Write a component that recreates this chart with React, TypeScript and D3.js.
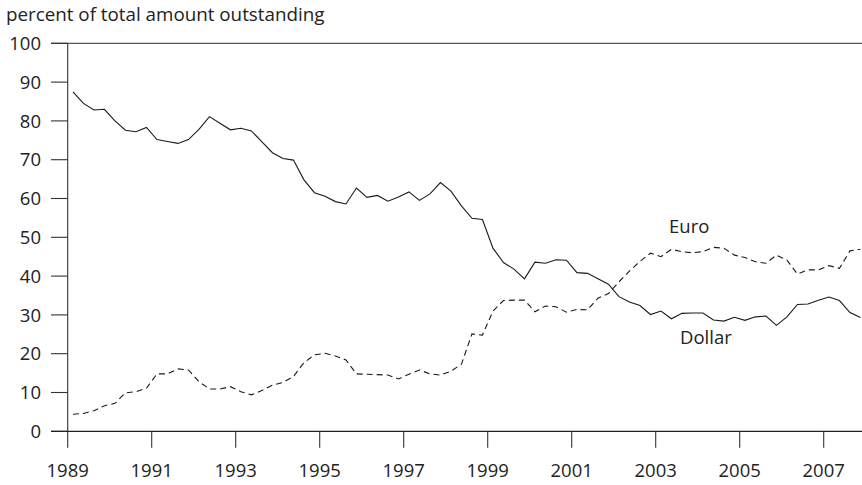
import React from "react";
import * as d3 from "d3";

const startYear = 1989.125;
const step = 0.25;

const dollar = [
  87.5, 84.5, 82.8, 83.0, 80.0, 77.6, 77.2, 78.3, 75.2, 74.7, 74.2, 75.2, 77.8, 81.1, 79.4, 77.7,
  78.1, 77.4, 74.6, 71.8, 70.3, 69.9, 64.8, 61.5, 60.6, 59.2, 58.6, 62.7, 60.3, 60.8, 59.3, 60.4,
  61.7, 59.5, 61.2, 64.1, 61.9, 58.1, 54.9, 54.6, 47.2, 43.5, 41.8, 39.3, 43.6, 43.3, 44.2, 44.1,
  40.9, 40.7, 39.3, 37.9, 34.7, 33.3, 32.4, 30.1, 31.0, 29.0, 30.4, 30.5, 30.5, 28.7, 28.4, 29.4,
  28.6, 29.5, 29.7, 27.3, 29.5, 32.7, 32.8, 33.8, 34.6, 33.7, 30.6, 29.3,
];

const euro = [
  4.4, 4.6, 5.3, 6.6, 7.2, 9.9, 10.2, 11.1, 14.8, 14.8, 16.1, 15.8, 12.8, 10.9, 10.9, 11.5,
  10.2, 9.4, 10.5, 11.9, 12.6, 14.1, 17.7, 19.7, 20.1, 19.4, 18.4, 14.8, 14.7, 14.6, 14.5, 13.5,
  14.7, 15.8, 14.8, 14.5, 15.5, 17.3, 25.1, 24.8, 31.0, 33.7, 33.8, 33.8, 30.8, 32.3, 32.1, 30.7,
  31.4, 31.3, 34.3, 35.5, 38.5, 41.3, 43.8, 45.9, 45.0, 46.9, 46.3, 46.0, 46.3, 47.4, 47.2, 45.4,
  44.8, 43.7, 43.3, 45.4, 44.1, 40.5, 41.6, 41.6, 42.7, 42.0, 46.5, 46.9,
];

const yTicks = [0, 10, 20, 30, 40, 50, 60, 70, 80, 90, 100];
const xTicks = [1989, 1991, 1993, 1995, 1997, 1999, 2001, 2003, 2005, 2007];

const W = 862;
const H = 485;
const FONT = "'Open Sans', sans-serif";

export default function App() {
  const x = d3.scaleLinear().domain([1989, 2008]).range([67.7, 67.7 + 42 * 19]);
  const y = d3.scaleLinear().domain([0, 100]).range([431.3, 43.3]);
  const right = 862;
  const tickLeft = 51;

  const line = d3
    .line<number>()
    .x((_, i) => x(startYear + step * i))
    .y((d) => y(d));

  return (
    <svg
      width={W}
      height={H}
      style={{ position: "absolute", left: 0, top: 0, background: "#fff" }}
      fontFamily={FONT}
    >
      <text x={6} y={21} fontSize={18.8} fill="#222">
        percent of total amount outstanding
      </text>

      {/* top border */}
      <line x1={tickLeft} x2={right} y1={y(100)} y2={y(100)} stroke="#555" strokeWidth={1.3} />
      {/* y axis */}
      <line x1={x(1989)} x2={x(1989)} y1={y(100)} y2={y(0)} stroke="#333" strokeWidth={1.1} />
      {yTicks.map((t) => (
        <g key={t}>
          <line x1={tickLeft} x2={x(1989)} y1={y(t)} y2={y(t)} stroke="#333" strokeWidth={1.1} />
          <text x={41} y={y(t)} dy="0.36em" textAnchor="end" fontSize={18.5} fill="#222">
            {t}
          </text>
        </g>
      ))}
      {/* x axis */}
      <line x1={tickLeft} x2={right} y1={y(0)} y2={y(0)} stroke="#222" strokeWidth={1.2} />
      {xTicks.map((t) => (
        <g key={t}>
          <line x1={x(t)} x2={x(t)} y1={y(0)} y2={y(0) + 16.5} stroke="#333" strokeWidth={1.1} />
          <text x={x(t)} y={477} textAnchor="middle" fontSize={18.5} fill="#222">
            {t}
          </text>
        </g>
      ))}

      <path d={line(dollar) || ""} fill="none" stroke="#1a1a1a" strokeWidth={1.1} />
      <path
        d={line(euro) || ""}
        fill="none"
        stroke="#1a1a1a"
        strokeWidth={1.1}
        strokeDasharray="6,4"
      />

      <text x={669} y={233} fontSize={18.5} fill="#222">
        Euro
      </text>
      <text x={680} y={344} fontSize={18.5} fill="#222">
        Dollar
      </text>
    </svg>
  );
}
